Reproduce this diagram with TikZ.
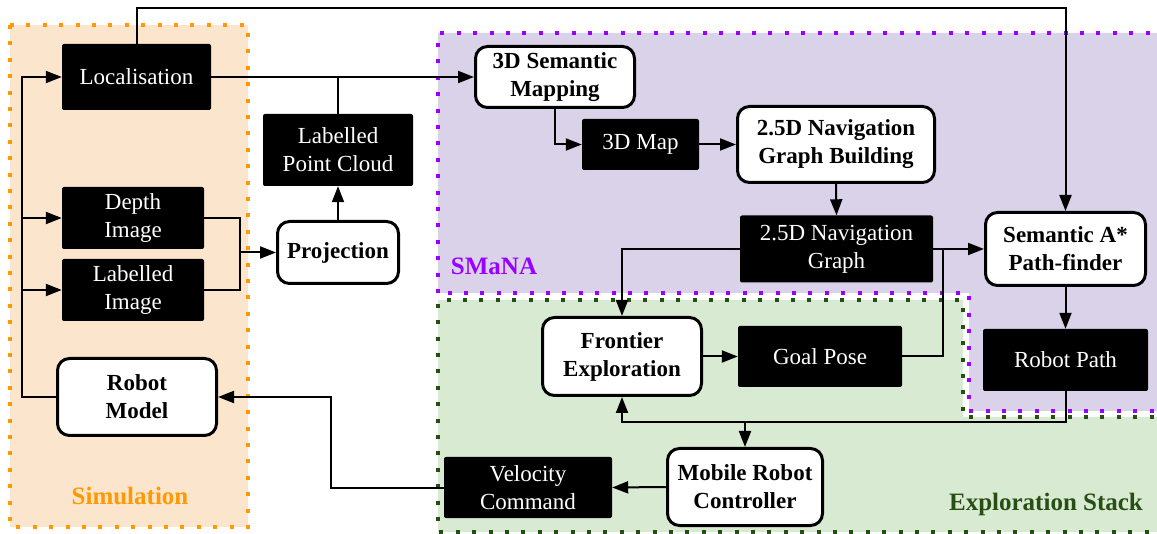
\documentclass[tikz,border=0pt]{standalone}
\usepackage{fontspec}
\setmainfont{Liberation Serif}
\newfontfamily\boxfont{Liberation Serif}
\usetikzlibrary{arrows.meta,calc}

\definecolor{simfill}{HTML}{FCE5CD}
\definecolor{simline}{HTML}{FF9900}
\definecolor{smfill}{HTML}{D9D2E9}
\definecolor{smline}{HTML}{9900FF}
\definecolor{exfill}{HTML}{D9EAD3}
\definecolor{exline}{HTML}{274E13}

\tikzset{
  datum/.style={fill=black, text=white, rounded corners=2pt, align=center,
    inner sep=0pt, font=\boxfont\fontsize{23}{28}\selectfont},
  process/.style={draw=black, fill=white, line width=3pt, rounded corners=12pt,
    align=center, inner sep=0pt, font=\boxfont\fontsize{23}{28}\selectfont\bfseries},
  wire/.style={line width=2pt, draw=black},
  arr/.style={wire, -{Triangle[length=16pt,width=12pt]}},
  region/.style={line width=4pt, dash pattern=on 4pt off 12.4pt},
  regionlabel/.style={font=\boxfont\fontsize{25}{30}\selectfont\bfseries}
}

\begin{document}
\begin{tikzpicture}[x=1pt,y=-1pt]
\useasboundingbox (0,0) rectangle (1157,534);

% ---- grouping regions ----
\fill[simfill] (10,25) rectangle (248,527);
\draw[region, simline] (10,25) rectangle (248,527);

\fill[smfill] (438,33) -- (1170,33) -- (1170,411) -- (969,411) -- (969,293) -- (438,293) -- cycle;
\draw[region, smline] (438,293) -- (438,33) -- (1170,33) (1170,411) -- (969,411) -- (969,293) -- (438,293);

\fill[exfill] (438,300) -- (963,300) -- (963,417) -- (1170,417) -- (1170,532) -- (438,532) -- cycle;
\draw[region, exline] (1170,417) -- (963,417) -- (963,300) -- (438,300) -- (438,532) -- (1170,532);

\node[regionlabel, text=simline] (simlbl) at (130,496) {Simulation};
\node[regionlabel, text=smline] (smlbl) at (494,266) {SMaNA};
\node[regionlabel, text=exline] (exlbl) at (1046,504) {Exploration Stack};

% ---- simulation side ----
\node[datum, minimum width=149pt, minimum height=66pt] (loc) at (136.5,77) {Localisation};
\node[datum, minimum width=142pt, minimum height=62pt] (depth) at (133,218) {Depth\\Image};
\node[datum, minimum width=142pt, minimum height=62pt] (limg) at (133,290) {Labelled\\Image};
\node[process, minimum width=159pt, minimum height=77pt] (robot) at (137,397) {Robot\\Model};

\node[datum, minimum width=150pt, minimum height=72pt] (lpc) at (338,150) {Labelled\\Point Cloud};
\node[process, minimum width=121pt, minimum height=62pt] (proj) at (338,252.5) {Projection};

% ---- SMaNA ----
\node[process, minimum width=159pt, minimum height=61pt] (sem) at (555,77) {3D Semantic\\Mapping};
\node[datum, minimum width=117pt, minimum height=51pt] (map) at (640.5,144.5) {3D Map};
\node[process, minimum width=197pt, minimum height=76pt] (ngb) at (836,144.5) {2.5D Navigation\\Graph Building};
\node[datum, minimum width=193pt, minimum height=67pt] (ng) at (836.5,249) {2.5D Navigation\\Graph};
\node[process, minimum width=160pt, minimum height=73pt] (astar) at (1065.5,249) {Semantic A*\\Path-finder};
\node[datum, minimum width=165pt, minimum height=62pt] (rpath) at (1065.5,360) {Robot Path};

% ---- exploration stack ----
\node[process, minimum width=159pt, minimum height=78pt] (front) at (622,356.5) {Frontier\\Exploration};
\node[datum, minimum width=164pt, minimum height=61pt] (goal) at (820,356.5) {Goal Pose};
\node[process, minimum width=155pt, minimum height=77pt] (ctrl) at (745,487) {Mobile Robot\\Controller};
\node[datum, minimum width=168pt, minimum height=61pt] (vel) at (528,487.5) {Velocity\\Command};

% ---- routing helpers ----
\coordinate (topline) at (0,8);
\coordinate (simbus) at (22,0);
\coordinate (imgjoin) at (240,252.5);
\coordinate (velbus) at (331,0);
\coordinate (goalbus) at (943,0);
\coordinate (pathbus) at (0,422);

% ---- connectors ----
\draw[arr] (loc.north) -- (loc.north |- topline) -| (astar.north);
\draw[arr] (loc.east) -- (sem.west);
\draw[wire] (lpc.north) -- (lpc.north |- loc.east);
\draw[arr] (proj.north) -- (lpc.south);
\draw[wire] (depth.east) -| (imgjoin);
\draw[wire] (limg.east) -| (imgjoin);
\draw[arr] (imgjoin) -- (proj.west);

\draw[arr] (robot.west) -| (simbus |- loc.west) -- (loc.west);
\draw[arr] (simbus |- depth.west) -- (depth.west);
\draw[arr] (simbus |- limg.west) -- (limg.west);

\draw[arr] (vel.west) -| (velbus |- robot.east) -- (robot.east);

\draw[arr] (sem.south) |- (map.west);
\draw[arr] (map.east) -- (ngb.west);
\draw[arr] (ngb.south) -- (ng.north);
\draw[arr] (ng.west) -| (front.north);
\draw[arr] (ng.east) -- (astar.west);
\draw[wire] (goal.east) -| (goalbus |- ng.east);
\draw[arr] (front.east) -- (goal.west);
\draw[arr] (astar.south) -- (rpath.north);

\draw[arr] (rpath.south) |- (front.south |- pathbus) -- (front.south);
\draw[arr] (ctrl.north |- pathbus) -- (ctrl.north);
\draw[arr] (ctrl.west) -- (vel.east);
\end{tikzpicture}
\end{document}
